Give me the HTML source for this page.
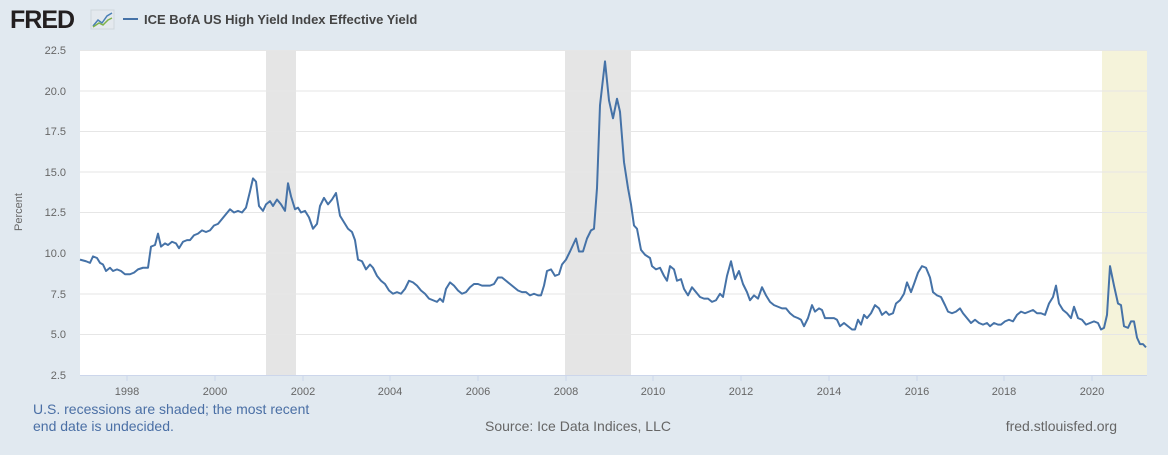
<!DOCTYPE html>
<html><head><meta charset="utf-8"><style>
body{margin:0;width:1168px;height:450px;background:#e1e9f0;font-family:"Liberation Sans",sans-serif;overflow:hidden}
</style></head><body>
<svg width="1168" height="450" xmlns="http://www.w3.org/2000/svg" font-family="Liberation Sans, sans-serif">
<rect width="1168" height="450" fill="#e1e9f0"/>
<text x="10" y="28" font-size="25" font-weight="bold" fill="#231f20" letter-spacing="-1">FRED</text>
<rect x="91" y="10" width="23" height="19" fill="#e4e9ee" stroke="#cfd6dc"/>
<polyline points="93,26 98,20 102,23 107,16 112,13" fill="none" stroke="#4a7fb5" stroke-width="1.5"/>
<polyline points="93,27 99,23 103,25 108,20 112,18" fill="none" stroke="#7fb24a" stroke-width="1.5"/>
<line x1="123" y1="19" x2="138" y2="19" stroke="#4572a7" stroke-width="2"/>
<text x="144" y="24" font-size="13" font-weight="bold" fill="#444">ICE BofA US High Yield Index Effective Yield</text>
<rect x="80" y="50" width="1067" height="325" fill="#fff"/>
<rect x="266" y="50" width="30" height="325" fill="#e5e5e5"/>
<rect x="565" y="50" width="66" height="325" fill="#e5e5e5"/>
<rect x="1102" y="50" width="45" height="325" fill="#f5f3da"/>
<g stroke="#e6e6e6" stroke-width="1">
<line x1="80" x2="1147" y1="50.5" y2="50.5"/><line x1="80" x2="1147" y1="91" y2="91"/><line x1="80" x2="1147" y1="131.5" y2="131.5"/><line x1="80" x2="1147" y1="172" y2="172"/><line x1="80" x2="1147" y1="212.5" y2="212.5"/><line x1="80" x2="1147" y1="253" y2="253"/><line x1="80" x2="1147" y1="294" y2="294"/><line x1="80" x2="1147" y1="334.5" y2="334.5"/>
</g>
<line x1="80" x2="1147" y1="375.5" y2="375.5" stroke="#ccd6eb"/>
<g font-size="11" fill="#666" text-anchor="end">
<text x="66" y="54">22.5</text><text x="66" y="95">20.0</text><text x="66" y="135">17.5</text><text x="66" y="176">15.0</text><text x="66" y="216">12.5</text><text x="66" y="257">10.0</text><text x="66" y="298">7.5</text><text x="66" y="338">5.0</text><text x="66" y="379">2.5</text>
</g>
<text transform="translate(22,212) rotate(-90)" font-size="11" fill="#666" text-anchor="middle">Percent</text>
<g stroke="#ccd6eb"><line x1="127" x2="127" y1="375" y2="381"/><line x1="215" x2="215" y1="375" y2="381"/><line x1="303" x2="303" y1="375" y2="381"/><line x1="390" x2="390" y1="375" y2="381"/><line x1="478" x2="478" y1="375" y2="381"/><line x1="566" x2="566" y1="375" y2="381"/><line x1="653" x2="653" y1="375" y2="381"/><line x1="741" x2="741" y1="375" y2="381"/><line x1="829" x2="829" y1="375" y2="381"/><line x1="917" x2="917" y1="375" y2="381"/><line x1="1004" x2="1004" y1="375" y2="381"/><line x1="1092" x2="1092" y1="375" y2="381"/></g>
<g font-size="11" fill="#666" text-anchor="middle">
<text x="127" y="395">1998</text><text x="215" y="395">2000</text><text x="303" y="395">2002</text><text x="390" y="395">2004</text><text x="478" y="395">2006</text><text x="566" y="395">2008</text><text x="653" y="395">2010</text><text x="741" y="395">2012</text><text x="829" y="395">2014</text><text x="917" y="395">2016</text><text x="1004" y="395">2018</text><text x="1092" y="395">2020</text>
</g>
<g transform="translate(0,375) scale(1,-16.25) translate(0,-2.5)">
<polyline fill="none" stroke="#4572a7" stroke-width="2" vector-effect="non-scaling-stroke" stroke-linejoin="round" points="80,9.6 86,9.5 90,9.4 93,9.8 97,9.7 100,9.4 103,9.3 106,8.9 110,9.1 113,8.9 117,9.0 121,8.9 125,8.7 130,8.7 134,8.8 138,9.0 143,9.1 148,9.1 151,10.4 155,10.5 158,11.2 161,10.4 165,10.6 168,10.5 172,10.7 176,10.6 179,10.3 183,10.7 187,10.8 190,10.8 194,11.1 198,11.2 202,11.4 206,11.3 210,11.4 214,11.7 218,11.8 222,12.1 226,12.4 230,12.7 234,12.5 238,12.6 242,12.5 246,12.8 250,13.8 253,14.6 256,14.4 259,12.9 263,12.6 266,13.0 270,13.2 273,12.9 277,13.3 281,13.0 285,12.6 288,14.3 291,13.5 295,12.7 298,12.8 301,12.5 305,12.6 309,12.2 313,11.5 317,11.8 320,12.9 324,13.4 328,13.0 332,13.3 336,13.7 340,12.3 344,11.9 348,11.5 352,11.3 355,10.8 358,9.6 362,9.5 366,9.0 370,9.3 373,9.1 377,8.6 381,8.3 385,8.1 389,7.7 393,7.5 397,7.6 401,7.5 405,7.8 409,8.3 413,8.2 417,8.0 421,7.7 425,7.5 429,7.2 433,7.1 437,7.0 440,7.2 443,7.0 446,7.8 450,8.2 454,8.0 458,7.7 462,7.5 466,7.6 470,7.9 474,8.1 478,8.1 482,8.0 486,8.0 490,8.0 494,8.1 498,8.5 502,8.5 506,8.3 510,8.1 514,7.9 518,7.7 522,7.6 526,7.6 530,7.4 534,7.5 538,7.4 541,7.4 544,8.0 547,8.9 551,9.0 555,8.6 559,8.7 562,9.3 566,9.6 570,10.1 573,10.5 576,10.9 579,10.1 583,10.1 587,10.9 591,11.4 594,11.5 597,14.0 600,19.1 605,21.8 609,19.4 613,18.3 617,19.5 620,18.7 624,15.6 628,14.0 631,13.0 634,11.7 637,11.5 641,10.2 645,9.9 650,9.7 652,9.2 656,9.0 660,9.1 664,8.6 667,8.3 670,9.2 674,9.0 677,8.3 681,8.4 684,7.8 688,7.4 692,7.9 696,7.6 700,7.3 704,7.2 708,7.2 712,7.0 716,7.1 720,7.5 723,7.3 727,8.6 731,9.5 735,8.4 739,8.9 743,8.1 747,7.6 750,7.1 754,7.4 758,7.2 762,7.9 766,7.4 770,7.0 774,6.8 778,6.7 782,6.6 786,6.6 790,6.3 794,6.1 798,6.0 801,5.9 804,5.5 808,6.0 812,6.8 815,6.4 819,6.6 822,6.5 825,6.0 830,6.0 834,6.0 837,5.9 840,5.5 844,5.7 848,5.5 852,5.3 855,5.3 858,5.9 861,5.6 864,6.2 867,6.0 871,6.3 875,6.8 879,6.6 882,6.2 886,6.4 889,6.2 893,6.3 896,6.9 900,7.1 904,7.5 907,8.2 911,7.6 914,8.1 918,8.8 922,9.2 926,9.1 930,8.5 933,7.6 937,7.4 941,7.3 945,6.8 948,6.4 952,6.3 956,6.4 960,6.6 963,6.3 967,6.0 971,5.7 975,5.9 979,5.7 983,5.6 987,5.7 990,5.5 994,5.7 998,5.6 1001,5.6 1005,5.8 1009,5.9 1013,5.8 1017,6.2 1021,6.4 1025,6.3 1029,6.4 1033,6.5 1037,6.3 1041,6.3 1045,6.2 1049,6.9 1053,7.3 1056,8.0 1059,6.9 1063,6.5 1067,6.3 1071,6.0 1074,6.7 1078,6.0 1082,5.9 1086,5.6 1090,5.7 1094,5.8 1098,5.7 1101,5.3 1104,5.4 1107,6.2 1110,9.2 1114,8.0 1118,6.9 1121,6.8 1124,5.5 1128,5.4 1131,5.8 1134,5.8 1137,4.8 1140,4.4 1143,4.4 1146,4.2"/>
</g>
<g font-size="14" fill="#4a6fa5">
<text x="33" y="414">U.S. recessions are shaded; the most recent</text>
<text x="33" y="431">end date is undecided.</text>
</g>
<text x="578" y="431" font-size="14" fill="#666" text-anchor="middle">Source: Ice Data Indices, LLC</text>
<text x="1117" y="431" font-size="14" fill="#666" text-anchor="end">fred.stlouisfed.org</text>
</svg>
</body></html>
